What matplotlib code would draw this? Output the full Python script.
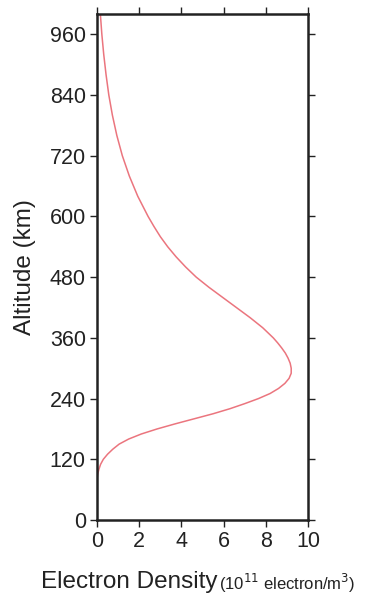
import matplotlib.pyplot as plt

plt.rcParams['font.family'] = ['Liberation Sans', 'DejaVu Sans']

# altitude (km) and electron density (1e11 electron/m^3) read from the profile
altitude = [80, 90, 100, 110, 120, 130, 140, 150, 160, 170, 180, 190, 200,
            210, 220, 230, 240, 250, 260, 270, 280, 290, 300, 310, 320, 330,
            340, 350, 360, 380, 400, 420, 440, 460, 480, 500, 520, 540, 560,
            580, 600, 640, 680, 720, 760, 800, 840, 880, 920, 960, 1000]
density = [0.0, 0.03, 0.09, 0.17, 0.3, 0.5, 0.75, 1.05, 1.5, 2.1, 2.85, 3.7,
           4.6, 5.5, 6.3, 7.0, 7.65, 8.2, 8.6, 8.9, 9.1, 9.2, 9.2, 9.15, 9.05,
           8.92, 8.75, 8.56, 8.35, 7.85, 7.25, 6.6, 5.95, 5.3, 4.7, 4.2, 3.75,
           3.35, 3.0, 2.7, 2.42, 1.93, 1.53, 1.2, 0.94, 0.73, 0.56, 0.43, 0.32,
           0.23, 0.16]

xticks = [0, 2, 4, 6, 8, 10]
yticks = [0, 120, 240, 360, 480, 600, 720, 840, 960]

fig = plt.figure(figsize=(3.73, 6), dpi=100)
ax = fig.add_axes([0.260, 0.1333, 0.566, 0.8434])

ax.plot(density, altitude, color='#eb757e', lw=1.1)

ax.set_xlim(0, 10)
ax.set_ylim(0, 1000)
ax.set_xticks(xticks)
ax.set_yticks(yticks)
ax.tick_params(direction='out', length=5, width=1, labelsize=15.5,
               colors='#222222', top=True, right=True, pad=3)
for s in ax.spines.values():
    s.set_linewidth(1.8)
    s.set_color('#222222')

fig.text(0.067, 0.555, 'Altitude (km)', rotation=90, ha='center', va='center',
         fontsize=17.5, color='#222222')
fig.text(0.584, 0.049, 'Electron Density', ha='right', va='top',
         fontsize=17.5, color='#222222')
fig.text(0.588, 0.047, '(10$^{11}$ electron/m$^3$)', ha='left', va='top',
         fontsize=12, color='#222222')

plt.savefig('out.png', dpi=100)
